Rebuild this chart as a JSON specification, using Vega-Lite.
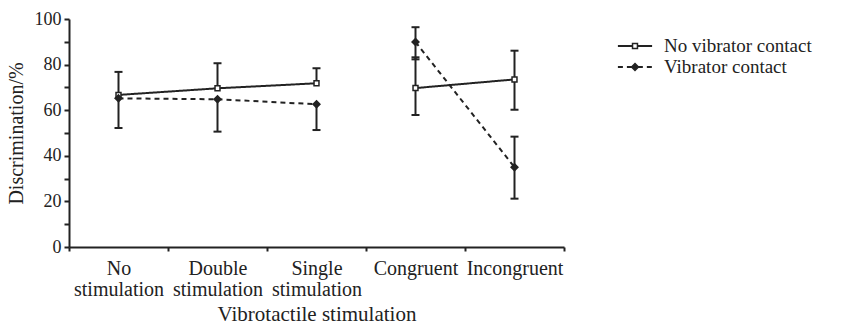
{
  "$schema": "https://vega.github.io/schema/vega-lite/v6.json",
  "width": 495,
  "height": 228,
  "autosize": "none",
  "padding": {"left": 69, "top": 19, "right": 285, "bottom": 79},
  "background": "white",
  "config": {
    "view": {"stroke": null},
    "font": "Liberation Serif",
    "axis": {
      "domainColor": "#222",
      "domainWidth": 2,
      "tickColor": "#222",
      "tickWidth": 2,
      "labelColor": "#222",
      "titleColor": "#222",
      "labelFont": "Liberation Serif",
      "titleFont": "Liberation Serif",
      "titleFontWeight": "normal",
      "grid": false
    },
    "legend": {
      "orient": "none",
      "legendX": 555.5,
      "legendY": 16.5,
      "padding": 0,
      "symbolSize": 361,
      "rowPadding": 0,
      "labelFontSize": 19,
      "labelFont": "Liberation Serif",
      "labelColor": "#222",
      "labelOffset": 18.5,
      "labelLimit": 300
    }
  },
  "data": {
    "values": [
      {"condition": "No stimulation", "series": "No vibrator contact", "segment": "A", "value": 66.7, "err_lo": null, "err_hi": 76.8},
      {"condition": "Double stimulation", "series": "No vibrator contact", "segment": "A", "value": 69.6, "err_lo": null, "err_hi": 80.6},
      {"condition": "Single stimulation", "series": "No vibrator contact", "segment": "A", "value": 71.8, "err_lo": null, "err_hi": 78.4},
      {"condition": "Congruent", "series": "No vibrator contact", "segment": "B", "value": 69.7, "err_lo": 57.9, "err_hi": 83.2},
      {"condition": "Incongruent", "series": "No vibrator contact", "segment": "B", "value": 73.5, "err_lo": 60.2, "err_hi": 86.1},
      {"condition": "No stimulation", "series": "Vibrator contact", "segment": "A", "value": 65.2, "err_lo": 52.2, "err_hi": null},
      {"condition": "Double stimulation", "series": "Vibrator contact", "segment": "A", "value": 64.8, "err_lo": 50.6, "err_hi": null},
      {"condition": "Single stimulation", "series": "Vibrator contact", "segment": "A", "value": 62.6, "err_lo": 51.3, "err_hi": null},
      {"condition": "Congruent", "series": "Vibrator contact", "segment": "B", "value": 89.9, "err_lo": 82.3, "err_hi": 96.4},
      {"condition": "Incongruent", "series": "Vibrator contact", "segment": "B", "value": 35.0, "err_lo": 21.2, "err_hi": 48.4}
    ]
  },
  "encoding": {
    "x": {
      "field": "condition",
      "type": "nominal",
      "sort": ["No stimulation", "Double stimulation", "Single stimulation", "Congruent", "Incongruent"],
      "scale": {"type": "band", "paddingInner": 0, "paddingOuter": 0},
      "axis": {
        "title": "Vibrotactile stimulation",
        "labelAngle": 0,
        "tickBand": "extent",
        "tickSize": 4,
        "labelPadding": 7,
        "labelFontSize": 20,
        "labelLineHeight": 21,
        "labelExpr": "split(datum.label, ' ')",
        "labelOverlap": false,
        "labelFlush": false,
        "titleFontSize": 21,
        "titlePadding": 4
      }
    },
    "y": {
      "field": "value",
      "type": "quantitative",
      "title": "Discrimination/%",
      "scale": {"domain": [0, 100], "nice": false},
      "axis": {
        "values": [0, 10, 20, 30, 40, 50, 60, 70, 80, 90, 100],
        "labelExpr": "datum.value % 20 === 0 ? datum.label : ''",
        "tickSize": 5,
        "labelPadding": 3,
        "titlePadding": 8,
        "labelFontSize": 18,
        "titleFontSize": 20,
        "labelFlush": false
      }
    }
  },
  "layer": [
    {
      "transform": [{"filter": "datum.err_hi != null"}],
      "mark": {"type": "rule", "strokeWidth": 2, "color": "#222"},
      "encoding": {"y2": {"field": "err_hi"}}
    },
    {
      "transform": [{"filter": "datum.err_lo != null"}],
      "mark": {"type": "rule", "strokeWidth": 2, "color": "#222"},
      "encoding": {
        "y": {"field": "err_lo", "type": "quantitative", "title": "Discrimination/%"},
        "y2": {"field": "value"}
      }
    },
    {
      "transform": [{"filter": "datum.err_hi != null"}],
      "mark": {"type": "tick", "size": 8, "thickness": 2, "color": "#222", "opacity": 1},
      "encoding": {"y": {"field": "err_hi", "type": "quantitative", "title": "Discrimination/%"}}
    },
    {
      "transform": [{"filter": "datum.err_lo != null"}],
      "mark": {"type": "tick", "size": 8, "thickness": 2, "color": "#222", "opacity": 1},
      "encoding": {"y": {"field": "err_lo", "type": "quantitative", "title": "Discrimination/%"}}
    },
    {
      "mark": {"type": "line", "strokeWidth": 2, "color": "#222"},
      "encoding": {
        "detail": {"field": "segment"},
        "strokeDash": {
          "field": "series",
          "type": "nominal",
          "scale": {"domain": ["No vibrator contact", "Vibrator contact"], "range": [[1, 0], [5, 4]]},
          "legend": {
            "title": null,
            "symbolType": "M-1.8,0L-0.3,0M0.3,0L1.8,0",
            "symbolStrokeWidth": 2,
            "symbolStrokeColor": "#222"
          }
        }
      }
    },
    {
      "mark": {"type": "point", "strokeWidth": 1.5, "stroke": "#222", "opacity": 1, "size": 361},
      "encoding": {
        "shape": {
          "field": "series",
          "type": "nominal",
          "scale": {"range": ["M-0.26,-0.26L0.26,-0.26L0.26,0.26L-0.26,0.26Z", "M0,-0.36L0.36,0L0,0.36L-0.36,0Z"]},
          "legend": {
            "title": null,
            "labelExpr": "''",
            "encode": {"symbols": {"update": {"stroke": {"value": "#222"}, "strokeWidth": {"value": 1.5}, "opacity": {"value": 1}, "strokeOpacity": {"value": 1}}}}
          }
        },
        "fill": {
          "field": "series",
          "type": "nominal",
          "scale": {"range": ["white", "#222"]},
          "legend": {
            "title": null,
            "labelExpr": "''",
            "encode": {"symbols": {"update": {"stroke": {"value": "#222"}, "strokeWidth": {"value": 1.5}, "opacity": {"value": 1}, "strokeOpacity": {"value": 1}}}}
          }
        }
      }
    }
  ]
}
